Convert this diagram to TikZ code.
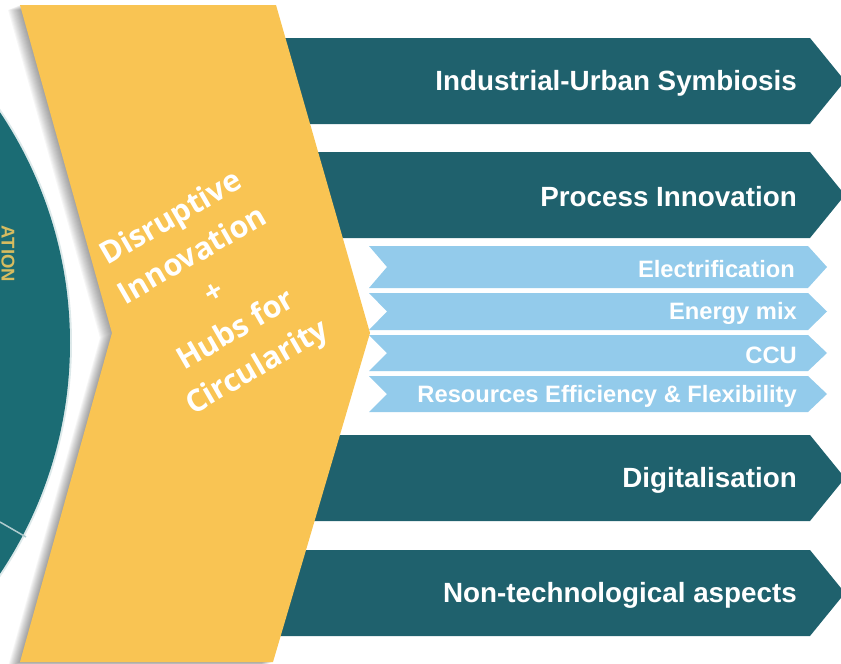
\documentclass[tikz,border=0pt]{standalone}
\usepackage{fontspec}
\setmainfont{Liberation Sans}
\newfontfamily\opensans{Open Sans}
\usetikzlibrary{positioning}

\definecolor{darkteal}{RGB}{31,97,109}
\definecolor{wheelteal}{RGB}{27,108,116}
\definecolor{skyblue}{RGB}{147,203,235}
\definecolor{mustard}{RGB}{249,196,83}
\definecolor{rimgold}{RGB}{214,188,96}

% dark bar: top, bottom
\newcommand{\darkbar}[2]{\fill[darkteal] (250,#1) -- (810,#1) -- (845,{(#1+#2)/2}) -- (810,#2) -- (250,#2) -- cycle;}
% light bar: top, bottom
\newcommand{\lightbar}[2]{\fill[skyblue] (369,#1) -- (808,#1) -- (827,{(#1+#2)/2}) -- (808,#2) -- (369,#2) -- (387,{(#1+#2)/2}) -- cycle;}

\begin{document}
\begin{tikzpicture}[x=1pt,y=-1pt,
    big label/.style={text=white,anchor=east,inner sep=0pt,font=\bfseries\fontsize{27.8}{30}\selectfont},
    small label/.style={text=white,anchor=east,inner sep=0pt,font=\bfseries\fontsize{23.7}{26}\selectfont}]

  \useasboundingbox (0,0) rectangle (841,664);
  \begin{scope}
    \clip (0,0) rectangle (841,664);

    % wheel on the left
    \fill[white!85!wheelteal] (-345,343) circle (417);
    \fill[wheelteal] (-345,343) circle (415);
    \draw[white!65!wheelteal,line width=1.5pt] (0,522) -- (26,537);
    \node[rotate=-90,text=rimgold,font=\bfseries\fontsize{18.5}{18.5}\selectfont] (rim) at (8,254) {ATION};

    % dark bars
    \darkbar{38}{124}
    \darkbar{152}{238}
    \darkbar{435}{521}
    \darkbar{550}{636}

    % light bars
    \lightbar{246}{288}
    \lightbar{293}{330}
    \lightbar{335}{371}
    \lightbar{376}{412}

    % shadow of the chevron
    \foreach \i in {1,...,12}
      \fill[black,opacity=0.035,shift={(-\i,0.4*\i)}]
        (20,5) -- (276,5) -- (370,333) -- (273,662) -- (20,662) -- (112,333) -- cycle;

    % big chevron
    \fill[mustard] (20,5) -- (276,5) -- (370,333) -- (273,662) -- (20,662) -- (112,333) -- cycle;
  \end{scope}

  \node[text=white,rotate=30,align=center,font=\opensans\bfseries\fontsize{30.5}{43}\selectfont] (hub) at (215,294)
    {Disruptive\\Innovation\\+\\Hubs for\\Circularity};

  \node[big label] (ius) at (797,83) {Industrial-Urban Symbiosis};
  \node[big label] (proc) at (797,197) {Process Innovation};
  \node[small label] (elec) at (795,269) {Electrification};
  \node[small label] (mix) at (797,313) {Energy mix};
  \node[small label] (ccu) at (797,355) {CCU};
  \node[small label] (res) at (797,396) {Resources Efficiency \& Flexibility};
  \node[big label] (digi) at (797,480) {Digitalisation};
  \node[big label] (nontech) at (797,595) {Non-technological aspects};
\end{tikzpicture}
\end{document}
